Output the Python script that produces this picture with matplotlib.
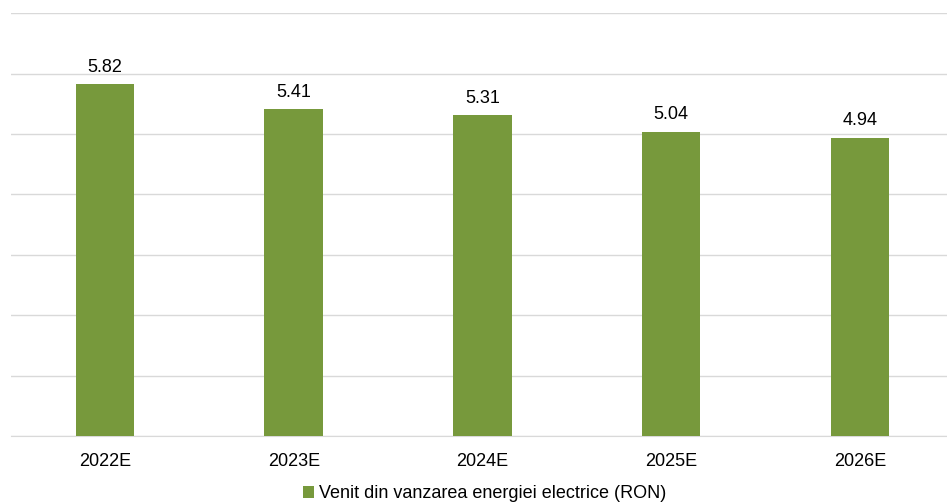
import matplotlib
matplotlib.use("Agg")
import matplotlib.pyplot as plt
from matplotlib.patches import Patch

# chart data
years = ["2022E", "2023E", "2024E", "2025E", "2026E"]
revenue = [5.82, 5.41, 5.31, 5.04, 4.94]
series_name = "Venit din vanzarea energiei electrice (RON)"

bar_color = "#77993C"
grid_color = "#D9D9D9"

plt.rcParams["font.family"] = ["Liberation Sans", "DejaVu Sans"]

fig = plt.figure(figsize=(9.47, 5.04), dpi=100)
# plot area runs slightly past the right edge of the image
ax = fig.add_axes([0.0112, 0.135, 0.9965, 0.839])

x = range(len(years))
bars = ax.bar(x, revenue, width=0.31, color=bar_color, zorder=3)

# value labels above bars
for b, v in zip(bars, revenue):
    ax.annotate(f"{v:.2f}", (b.get_x() + b.get_width() / 2, v),
                xytext=(0, 6), textcoords="offset points",
                ha="center", va="bottom", fontsize=13, color="#000000")

ax.set_xlim(-0.5, len(years) - 0.5)
ax.set_ylim(0, 7)
ax.set_yticks(range(0, 8))
ax.yaxis.grid(True, color=grid_color, linewidth=1, zorder=0)
ax.tick_params(axis="y", left=False, labelleft=False)
ax.tick_params(axis="x", length=0, pad=12, labelsize=13)
ax.set_xticks(list(x))
ax.set_xticklabels(years)

for side in ["top", "right", "left"]:
    ax.spines[side].set_visible(False)
ax.spines["bottom"].set_color(grid_color)

handle = Patch(facecolor=bar_color, edgecolor="none")
fig.legend([handle], [series_name], loc="center", bbox_to_anchor=(0.512, 0.02),
           frameon=False, fontsize=13, handlelength=0.6, handleheight=0.6,
           handletextpad=0.3)

fig.savefig("out.png", dpi=100)
